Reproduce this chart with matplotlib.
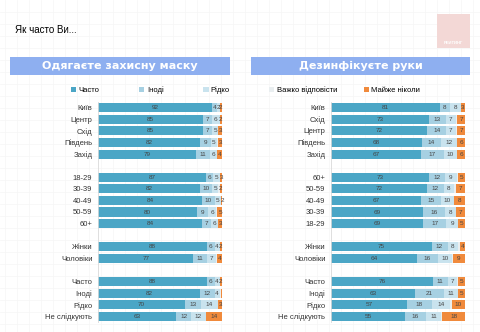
import numpy as np
import matplotlib
matplotlib.use("Agg")
from matplotlib import pyplot as plt
from matplotlib.patches import Rectangle

plt.rcParams['font.family'] = ['Liberation Sans', 'DejaVu Sans']

ROWS = ["Київ", "Центр", "Схід", "Південь", "Захід", "",
        "18-29", "30-39", "40-49", "50-59", "60+", "",
        "Жінки", "Чоловіки", "",
        "Часто", "Іноді", "Рідко", "Не слідкують"]
ROWS_HANDS = ["Київ", "Схід", "Центр", "Південь", "Захід", "",
              "60+", "50-59", "40-49", "30-39", "18-29", "",
              "Жінки", "Чоловіки", "",
              "Часто", "Іноді", "Рідко", "Не слідкують"]

SERIES = ["Часто", "Іноді", "Рідко", "Важко відповісти", "Майже ніколи"]
COLORS = ["#4ba6c6", "#a6d0e2", "#c9e3ee", "#e9eef0", "#f08a3c"]

# маска: часто, іноді, рідко, важко, майже ніколи (None = порожній рядок)
mask_often = [92, 85, 85, 82, 79, None, 87, 82, 84, 80, 84, None, 88, 77, None, 88, 82, 70, 63]
mask_some = [4, 7, 7, 9, 11, None, 6, 10, 10, 9, 7, None, 6, 11, None, 6, 12, 13, 12]
mask_rare = [2, 6, 5, 5, 6, None, 5, 5, 5, 6, 6, None, 4, 7, None, 4, 4, 14, 12]
mask_dk = [0, 0, 0, 1, 0, None, 0, 1, 0, 1, 0, None, 0, 1, None, 0, 1, 0, 0]
mask_never = [2, 2, 3, 3, 4, None, 3, 2, 2, 5, 3, None, 2, 4, None, 2, 1, 3, 14]

hands_often = [81, 73, 72, 68, 67, None, 73, 72, 67, 69, 69, None, 75, 64, None, 76, 63, 57, 55]
hands_some = [8, 13, 14, 14, 17, None, 12, 12, 15, 16, 17, None, 12, 16, None, 11, 21, 18, 16]
hands_rare = [8, 7, 7, 12, 10, None, 9, 8, 10, 8, 9, None, 8, 10, None, 7, 11, 14, 11]
hands_dk = [0, 1, 1, 0, 0, None, 1, 1, 0, 0, 0, None, 1, 1, None, 1, 0, 1, 1]
hands_never = [3, 7, 7, 6, 6, None, 5, 7, 8, 7, 5, None, 4, 9, None, 5, 5, 10, 18]

W, H = 480, 332
fig = plt.figure(figsize=(W / 100, H / 100), dpi=100)
fig.patch.set_facecolor("white")


def px(x0, y0, x1, y1):
    return [x0 / W, 1 - y1 / H, (x1 - x0) / W, (y1 - y0) / H]


# faint slide grid in the background
bg = fig.add_axes([0, 0, 1, 1], zorder=-5)
bg.set_xlim(0, W)
bg.set_ylim(H, 0)
for gx in np.arange(5, W, 12):
    bg.axvline(gx, color="#f6f6f6", lw=0.5, zorder=0)
for gy in np.arange(12, H, 12):
    bg.axhline(gy, color="#f6f6f6", lw=0.5, zorder=0)
bg.axis("off")

fig.text(15 / W, 1 - 30 / H, "Як часто Ви...", fontsize=7, va="center", ha="left",
         weight="medium")
bg.add_patch(Rectangle((437, 14), 33, 34, color="#f3d8d6", lw=0, zorder=3))
bg.text(453, 43, "РЕЙТИНГ", fontsize=3, color="white", ha="center", va="center",
        weight="bold", zorder=4)

# headers
for x0, x1, title in [(10, 230, "Одягаєте захисну маску"), (251, 470, "Дезинфікуєте руки")]:
    bg.add_patch(Rectangle((x0, 57), x1 - x0, 18, color="#8eaff0", lw=0, zorder=3))
    bg.text((x0 + x1) / 2, 66, title, fontsize=8, color="white", weight="bold",
            ha="center", va="center", zorder=4, family=["DejaVu Sans"])


def panel(rect, rows, data):
    ax = fig.add_axes(rect)
    y = np.arange(len(rows))
    left = np.zeros(len(rows))
    bars = []
    for name, vals, col in zip(SERIES, data, COLORS):
        v = np.array([0 if a is None else a for a in vals], dtype=float)
        b = ax.barh(y, v, left=left, height=0.78, color=col, label=name)
        bars.append(b)
        for yi, (l, w) in enumerate(zip(left, v)):
            if w >= 2:
                ax.text(l + w / 2, yi, f"{int(w)}", ha="center", va="center",
                        fontsize=4.6, color="#444444")
        left += v
    ax.set_xlim(0, 100)
    ax.set_ylim(len(rows) - 0.5, -0.5)
    ax.set_yticks(y)
    ax.set_yticklabels(rows, fontsize=5.5, color="#333333")
    ax.tick_params(axis="y", length=0, pad=4)
    ax.set_xticks([])
    for s in ["top", "right", "bottom"]:
        ax.spines[s].set_visible(False)
    ax.spines["left"].set_color("#d9d9d9")
    ax.spines["left"].set_linewidth(0.6)
    ax.patch.set_alpha(0)
    return ax, bars


axl, bl = panel(px(98, 102, 222, 322), ROWS,
                [mask_often, mask_some, mask_rare, mask_dk, mask_never])
axr, br = panel(px(331, 102, 465, 322), ROWS_HANDS,
                [hands_often, hands_some, hands_rare, hands_dk, hands_never])

leg_kw = dict(fontsize=5.5, frameon=False, handlelength=0.7, handleheight=0.7,
              handletextpad=0.3, loc="center left")
fig.legend(bl[:3], SERIES[:3], ncol=3, columnspacing=5.2,
           bbox_to_anchor=(64 / W, 1 - 90 / H), **leg_kw)
fig.legend(br[3:], SERIES[3:], ncol=2, columnspacing=3.5,
           bbox_to_anchor=(262 / W, 1 - 90 / H), **leg_kw)

fig.savefig("out.png", dpi=100)
